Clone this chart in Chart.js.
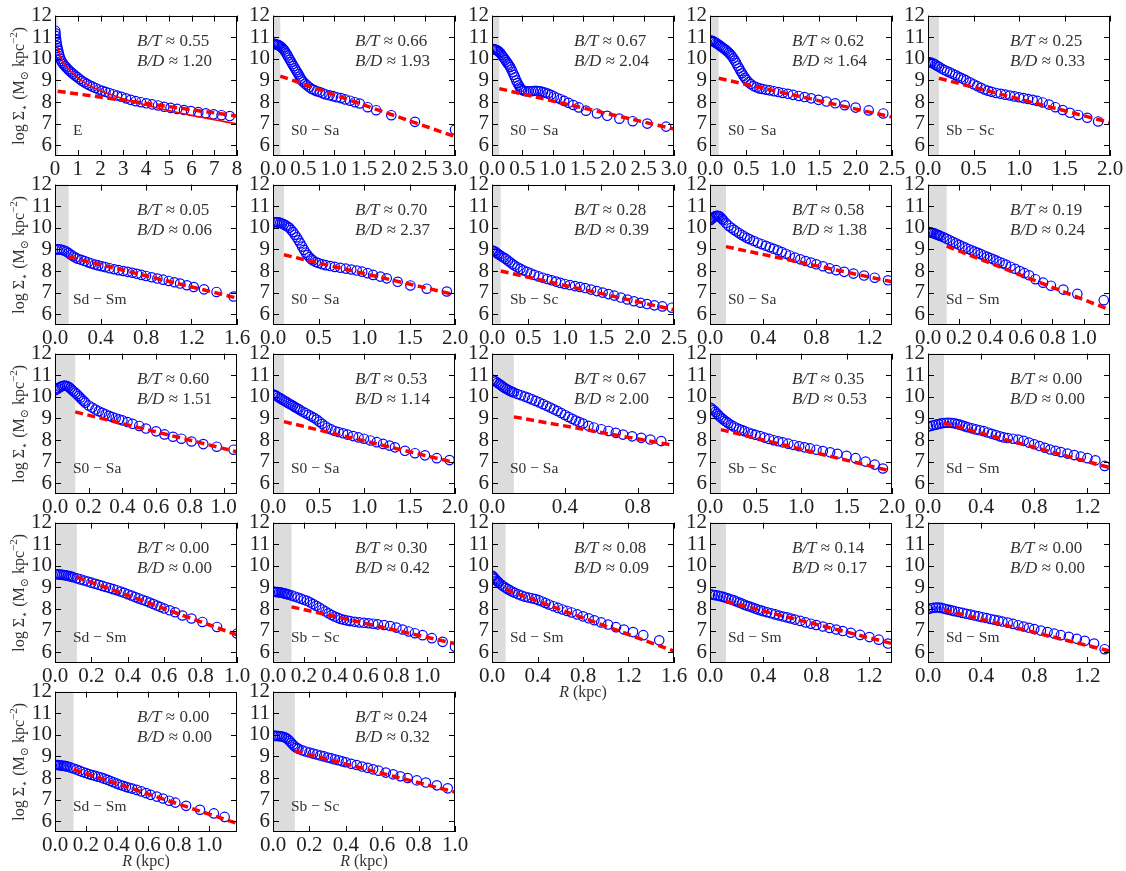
<!DOCTYPE html>
<html>
<head>
<meta charset="utf-8">
<script src="https://cdn.jsdelivr.net/npm/chart.js@4.4.0/dist/chart.umd.min.js"></script>
<style>
  body { margin: 0; background: #fff; }
  #grid { position: relative; width: 1126px; height: 871px; overflow: hidden; background: #fff; }
  #grid canvas { position: absolute; }
</style>
</head>
<body>
<div id="grid"></div>
<script>
// ---------------------------------------------------------------
// Surface density profiles, one panel per galaxy
// ---------------------------------------------------------------

const morph = ['E', 'S0 − Sa', 'S0 − Sa', 'S0 − Sa', 'Sb − Sc',
               'Sd − Sm', 'S0 − Sa', 'Sb − Sc', 'S0 − Sa', 'Sd − Sm',
               'S0 − Sa', 'S0 − Sa', 'S0 − Sa', 'Sb − Sc', 'Sd − Sm',
               'Sd − Sm', 'Sb − Sc', 'Sd − Sm', 'Sd − Sm', 'Sd − Sm',
               'Sd − Sm', 'Sb − Sc'];
const bulgeTotal = ['0.55', '0.66', '0.67', '0.62', '0.25',
                    '0.05', '0.70', '0.28', '0.58', '0.19',
                    '0.60', '0.53', '0.67', '0.35', '0.00',
                    '0.00', '0.30', '0.08', '0.14', '0.00',
                    '0.00', '0.24'];
const bulgeDisk = ['1.20', '1.93', '2.04', '1.64', '0.33',
                   '0.06', '2.37', '0.39', '1.38', '0.24',
                   '1.51', '1.14', '2.00', '0.53', '0.00',
                   '0.00', '0.42', '0.09', '0.17', '0.00',
                   '0.00', '0.32'];

// x-axis extent (kpc) and tick spacing per panel
const xMax  = [8, 3.0, 3.0, 2.5, 2.0, 1.6, 2.0, 2.5, 1.37, 1.17, 1.08, 2.0, 1.0, 2.0, 1.37, 1.0, 1.18, 1.6, 1.37, 1.37, 1.18, 1.0];
const xStep = [1, 0.5, 0.5, 0.5, 0.5, 0.4, 0.5, 0.5, 0.4, 0.2, 0.2, 0.5, 0.4, 0.5, 0.4, 0.2, 0.2, 0.4, 0.4, 0.4, 0.2, 0.2];
const yTicks = [6, 7, 8, 9, 10, 11, 12];

// inner region excluded from the disc fit (kpc)
const maskR = 0.12;
// exponential disc: log Sigma at R = maskR and at R = xMax
const diskIn  = [8.5, 9.2, 8.62, 9.1, 9.1, 8.65, 8.75, 8.0, 9.13, 9.15, 9.3, 8.85, 9.07, 8.48, 8.78, 9.48, 8.1, 8.9, 8.35, 7.95, 8.4, 9.25];
const diskOut = [7.35, 6.4, 6.75, 7.3, 7.05, 6.75, 6.9, 6.2, 7.5, 6.2, 7.45, 6.95, 7.75, 6.55, 6.72, 6.8, 6.4, 6.05, 6.4, 6.05, 5.9, 7.35];

// total (bulge + disc) fit for the elliptical
const fitR01  = [0.12, 0.2, 0.3, 0.4, 0.5, 0.7, 1.0, 1.3, 1.6, 2.0, 2.5, 3.0, 3.5, 4.0, 4.5, 5.0, 5.5, 6.0, 6.5, 7.0, 7.5, 8.0];
const fitLS01 = [10.5, 10.2, 9.95, 9.78, 9.65, 9.4, 9.13, 8.9, 8.72, 8.52, 8.32, 8.15, 8.0, 7.86, 7.72, 7.6, 7.49, 7.38, 7.28, 7.18, 7.08, 6.99];

// measured profiles: radius (kpc) and log Sigma_*
const R01  = [0.01, 0.02, 0.03, 0.05, 0.07, 0.09, 0.11, 0.14, 0.17, 0.2, 0.24, 0.28, 0.33, 0.38, 0.44, 0.5, 0.57, 0.64, 0.72, 0.8, 0.89, 0.98, 1.08, 1.18, 1.29, 1.4, 1.52, 1.65, 1.78, 1.92, 2.07, 2.22, 2.38, 2.55, 2.73, 2.92, 3.12, 3.33, 3.55, 3.78, 4.02, 4.27, 4.53, 4.8, 5.08, 5.37, 5.67, 5.98, 6.3, 6.63, 6.97, 7.32, 7.68];
const LS01 = [11.3, 11.18, 11.06, 10.9, 10.75, 10.6, 10.5, 10.38, 10.25, 10.12, 10.0, 9.9, 9.82, 9.74, 9.67, 9.6, 9.52, 9.45, 9.37, 9.3, 9.22, 9.15, 9.06, 8.98, 8.91, 8.84, 8.77, 8.71, 8.65, 8.58, 8.52, 8.47, 8.42, 8.36, 8.3, 8.24, 8.17, 8.1, 8.04, 7.99, 7.94, 7.89, 7.84, 7.78, 7.73, 7.68, 7.63, 7.58, 7.53, 7.48, 7.43, 7.39, 7.35];

const R02  = [0.0, 0.02, 0.04, 0.06, 0.08, 0.1, 0.12, 0.14, 0.16, 0.18, 0.2, 0.22, 0.24, 0.26, 0.28, 0.3, 0.32, 0.34, 0.36, 0.38, 0.4, 0.42, 0.44, 0.46, 0.48, 0.5, 0.53, 0.56, 0.6, 0.64, 0.68, 0.72, 0.77, 0.82, 0.87, 0.93, 0.99, 1.05, 1.12, 1.19, 1.27, 1.35, 1.43, 1.56, 1.7, 1.95, 2.34, 3.0];
const LS02 = [10.7, 10.7, 10.68, 10.66, 10.64, 10.62, 10.58, 10.54, 10.48, 10.42, 10.34, 10.25, 10.15, 10.05, 9.95, 9.85, 9.75, 9.66, 9.56, 9.47, 9.38, 9.28, 9.18, 9.08, 9.0, 8.93, 8.85, 8.77, 8.68, 8.6, 8.55, 8.5, 8.46, 8.4, 8.35, 8.31, 8.27, 8.22, 8.18, 8.12, 8.06, 7.99, 7.93, 7.76, 7.62, 7.39, 7.08, 6.72];

const R03  = [0.0, 0.02, 0.04, 0.06, 0.08, 0.1, 0.12, 0.14, 0.16, 0.18, 0.2, 0.22, 0.24, 0.26, 0.28, 0.3, 0.32, 0.34, 0.36, 0.38, 0.4, 0.42, 0.44, 0.46, 0.48, 0.5, 0.53, 0.56, 0.6, 0.64, 0.68, 0.72, 0.76, 0.8, 0.84, 0.88, 0.92, 0.97, 1.02, 1.07, 1.13, 1.19, 1.26, 1.34, 1.43, 1.55, 1.73, 1.9, 2.1, 2.32, 2.56, 2.87];
const LS03 = [10.45, 10.45, 10.44, 10.42, 10.4, 10.36, 10.32, 10.26, 10.18, 10.1, 10.02, 9.94, 9.86, 9.78, 9.7, 9.62, 9.5, 9.38, 9.26, 9.14, 9.0, 8.88, 8.77, 8.68, 8.6, 8.55, 8.52, 8.5, 8.5, 8.5, 8.51, 8.52, 8.51, 8.49, 8.46, 8.43, 8.39, 8.33, 8.26, 8.2, 8.13, 8.05, 7.96, 7.86, 7.75, 7.6, 7.47, 7.36, 7.23, 7.11, 7.0, 6.86];

const R04  = [0.0, 0.02, 0.04, 0.06, 0.08, 0.1, 0.12, 0.14, 0.16, 0.18, 0.2, 0.22, 0.24, 0.26, 0.28, 0.3, 0.32, 0.34, 0.36, 0.38, 0.4, 0.42, 0.44, 0.46, 0.48, 0.5, 0.53, 0.56, 0.6, 0.64, 0.68, 0.72, 0.77, 0.82, 0.88, 0.94, 1.0, 1.07, 1.14, 1.22, 1.3, 1.39, 1.49, 1.6, 1.72, 1.85, 2.0, 2.18, 2.38];
const LS04 = [10.85, 10.84, 10.82, 10.78, 10.74, 10.7, 10.65, 10.6, 10.55, 10.5, 10.45, 10.4, 10.34, 10.28, 10.2, 10.12, 10.02, 9.92, 9.8, 9.68, 9.56, 9.44, 9.33, 9.22, 9.12, 9.03, 8.92, 8.83, 8.74, 8.68, 8.63, 8.6, 8.57, 8.54, 8.5, 8.46, 8.42, 8.38, 8.33, 8.28, 8.23, 8.17, 8.1, 8.02, 7.94, 7.85, 7.74, 7.61, 7.47];

const R05  = [0.0, 0.02, 0.04, 0.06, 0.08, 0.1, 0.12, 0.15, 0.18, 0.21, 0.24, 0.27, 0.3, 0.33, 0.36, 0.39, 0.42, 0.46, 0.5, 0.54, 0.58, 0.62, 0.66, 0.7, 0.75, 0.8, 0.85, 0.9, 0.95, 1.0, 1.05, 1.1, 1.15, 1.2, 1.26, 1.33, 1.4, 1.48, 1.56, 1.65, 1.75, 1.87];
const LS05 = [9.85, 9.84, 9.82, 9.78, 9.73, 9.68, 9.63, 9.55, 9.48, 9.42, 9.37, 9.31, 9.25, 9.18, 9.12, 9.06, 9.0, 8.91, 8.82, 8.74, 8.66, 8.58, 8.52, 8.47, 8.42, 8.38, 8.34, 8.3, 8.26, 8.22, 8.18, 8.14, 8.1, 8.05, 7.98, 7.88, 7.76, 7.63, 7.5, 7.4, 7.27, 7.1];

const R06  = [0.0, 0.02, 0.04, 0.06, 0.08, 0.1, 0.12, 0.14, 0.16, 0.18, 0.2, 0.23, 0.26, 0.29, 0.32, 0.35, 0.38, 0.41, 0.44, 0.48, 0.52, 0.56, 0.6, 0.64, 0.68, 0.72, 0.76, 0.8, 0.85, 0.9, 0.95, 1.0, 1.05, 1.1, 1.16, 1.22, 1.31, 1.42, 1.57];
const LS06 = [8.98, 9.0, 9.0, 8.98, 8.95, 8.9, 8.83, 8.75, 8.68, 8.62, 8.57, 8.52, 8.46, 8.4, 8.35, 8.3, 8.26, 8.22, 8.18, 8.13, 8.08, 8.04, 8.0, 7.96, 7.92, 7.87, 7.82, 7.77, 7.71, 7.65, 7.6, 7.54, 7.48, 7.42, 7.34, 7.26, 7.15, 7.03, 6.82];

const R07  = [0.0, 0.02, 0.04, 0.06, 0.08, 0.1, 0.12, 0.14, 0.16, 0.18, 0.2, 0.22, 0.24, 0.26, 0.28, 0.3, 0.32, 0.34, 0.36, 0.38, 0.4, 0.42, 0.44, 0.47, 0.5, 0.54, 0.58, 0.63, 0.68, 0.74, 0.8, 0.86, 0.92, 0.98, 1.04, 1.1, 1.18, 1.25, 1.37, 1.51, 1.69, 1.91];
const LS07 = [10.25, 10.26, 10.26, 10.25, 10.23, 10.2, 10.16, 10.11, 10.06, 10.0, 9.9, 9.8, 9.68, 9.56, 9.42, 9.28, 9.13, 8.98, 8.85, 8.74, 8.64, 8.56, 8.49, 8.42, 8.37, 8.31, 8.27, 8.23, 8.19, 8.15, 8.11, 8.07, 8.02, 7.97, 7.9, 7.82, 7.74, 7.66, 7.5, 7.33, 7.18, 7.05];

const R08  = [0.0, 0.02, 0.04, 0.06, 0.08, 0.1, 0.13, 0.16, 0.19, 0.22, 0.25, 0.28, 0.31, 0.35, 0.39, 0.43, 0.48, 0.53, 0.58, 0.64, 0.7, 0.76, 0.82, 0.88, 0.94, 1.0, 1.07, 1.14, 1.21, 1.28, 1.36, 1.44, 1.52, 1.6, 1.68, 1.77, 1.86, 1.95, 2.04, 2.13, 2.23, 2.34, 2.47];
const LS08 = [8.95, 8.93, 8.9, 8.85, 8.8, 8.75, 8.68, 8.62, 8.56, 8.48, 8.4, 8.32, 8.25, 8.17, 8.1, 8.03, 7.96, 7.89, 7.82, 7.75, 7.69, 7.63, 7.57, 7.51, 7.45, 7.4, 7.35, 7.3, 7.26, 7.21, 7.14, 7.07, 7.0, 6.93, 6.86, 6.77, 6.68, 6.6, 6.53, 6.47, 6.41, 6.36, 6.3];

const R09  = [0.0, 0.01, 0.02, 0.03, 0.04, 0.05, 0.06, 0.07, 0.08, 0.09, 0.1, 0.12, 0.14, 0.16, 0.18, 0.2, 0.22, 0.24, 0.26, 0.28, 0.3, 0.33, 0.36, 0.39, 0.42, 0.45, 0.48, 0.51, 0.54, 0.57, 0.6, 0.64, 0.68, 0.72, 0.76, 0.8, 0.85, 0.9, 0.95, 1.01, 1.08, 1.16, 1.24, 1.34];
const LS09 = [10.35, 10.4, 10.45, 10.5, 10.54, 10.56, 10.56, 10.53, 10.48, 10.42, 10.35, 10.22, 10.1, 10.0, 9.91, 9.83, 9.75, 9.67, 9.6, 9.53, 9.47, 9.39, 9.31, 9.24, 9.17, 9.1, 9.03, 8.96, 8.88, 8.8, 8.72, 8.62, 8.54, 8.46, 8.39, 8.31, 8.22, 8.12, 8.04, 7.96, 7.88, 7.79, 7.69, 7.57];

const R10  = [0.0, 0.01, 0.02, 0.03, 0.04, 0.05, 0.06, 0.07, 0.08, 0.1, 0.12, 0.14, 0.16, 0.18, 0.2, 0.22, 0.24, 0.26, 0.28, 0.3, 0.32, 0.34, 0.36, 0.38, 0.4, 0.42, 0.44, 0.46, 0.48, 0.5, 0.53, 0.56, 0.59, 0.62, 0.65, 0.69, 0.74, 0.79, 0.87, 0.96, 1.13];
const LS10 = [9.8, 9.8, 9.78, 9.76, 9.74, 9.71, 9.68, 9.65, 9.62, 9.56, 9.49, 9.42, 9.35, 9.28, 9.21, 9.14, 9.08, 9.02, 8.96, 8.9, 8.84, 8.78, 8.72, 8.66, 8.6, 8.54, 8.48, 8.42, 8.36, 8.3, 8.2, 8.1, 8.0, 7.9, 7.8, 7.62, 7.46, 7.32, 7.14, 6.94, 6.65];

const R11  = [0.0, 0.01, 0.02, 0.03, 0.04, 0.05, 0.06, 0.07, 0.08, 0.09, 0.1, 0.11, 0.12, 0.13, 0.14, 0.15, 0.16, 0.17, 0.18, 0.2, 0.22, 0.24, 0.26, 0.28, 0.3, 0.32, 0.34, 0.36, 0.38, 0.4, 0.43, 0.46, 0.5, 0.54, 0.6, 0.65, 0.7, 0.75, 0.81, 0.88, 0.96, 1.06];
const LS11 = [10.3, 10.35, 10.4, 10.45, 10.49, 10.51, 10.52, 10.5, 10.46, 10.4, 10.33, 10.26, 10.19, 10.12, 10.04, 9.96, 9.88, 9.8, 9.73, 9.6, 9.5, 9.41, 9.33, 9.26, 9.19, 9.12, 9.06, 9.01, 8.96, 8.91, 8.83, 8.75, 8.65, 8.53, 8.4, 8.26, 8.15, 8.06, 7.93, 7.81, 7.69, 7.55];

const R12  = [0.0, 0.02, 0.04, 0.06, 0.08, 0.1, 0.12, 0.14, 0.16, 0.18, 0.2, 0.22, 0.24, 0.26, 0.28, 0.3, 0.33, 0.36, 0.39, 0.42, 0.45, 0.48, 0.51, 0.54, 0.57, 0.6, 0.64, 0.68, 0.72, 0.77, 0.82, 0.88, 0.94, 1.0, 1.07, 1.14, 1.21, 1.28, 1.34, 1.45, 1.56, 1.67, 1.8, 1.94];
const LS12 = [10.12, 10.08, 10.03, 9.98, 9.93, 9.88, 9.83, 9.78, 9.73, 9.68, 9.63, 9.58, 9.53, 9.48, 9.43, 9.38, 9.31, 9.24, 9.17, 9.1, 9.03, 8.95, 8.85, 8.75, 8.65, 8.57, 8.49, 8.42, 8.37, 8.31, 8.25, 8.18, 8.12, 8.06, 7.98, 7.9, 7.82, 7.74, 7.66, 7.5, 7.39, 7.29, 7.16, 7.07];

const R13  = [0.0, 0.01, 0.02, 0.03, 0.04, 0.05, 0.06, 0.07, 0.08, 0.09, 0.1, 0.11, 0.12, 0.14, 0.16, 0.18, 0.2, 0.22, 0.24, 0.26, 0.28, 0.3, 0.32, 0.34, 0.36, 0.38, 0.4, 0.42, 0.44, 0.46, 0.48, 0.5, 0.53, 0.56, 0.6, 0.64, 0.68, 0.72, 0.77, 0.82, 0.87, 0.93];
const LS13 = [10.8, 10.76, 10.71, 10.65, 10.59, 10.53, 10.47, 10.41, 10.36, 10.31, 10.27, 10.23, 10.2, 10.13, 10.07, 10.01, 9.95, 9.88, 9.81, 9.74, 9.66, 9.58, 9.5, 9.42, 9.34, 9.25, 9.16, 9.07, 8.98, 8.9, 8.83, 8.76, 8.66, 8.58, 8.5, 8.42, 8.33, 8.25, 8.17, 8.1, 8.02, 7.95];

const R14  = [0.0, 0.02, 0.04, 0.06, 0.08, 0.1, 0.12, 0.14, 0.16, 0.18, 0.2, 0.23, 0.26, 0.29, 0.32, 0.35, 0.38, 0.42, 0.46, 0.5, 0.55, 0.6, 0.65, 0.7, 0.75, 0.8, 0.86, 0.92, 0.98, 1.04, 1.1, 1.17, 1.24, 1.32, 1.4, 1.5, 1.6, 1.71, 1.81, 1.9];
const LS14 = [9.5, 9.45, 9.38, 9.3, 9.21, 9.12, 9.04, 8.97, 8.9, 8.84, 8.78, 8.7, 8.63, 8.57, 8.51, 8.46, 8.41, 8.35, 8.29, 8.24, 8.18, 8.11, 8.05, 7.99, 7.94, 7.89, 7.83, 7.77, 7.71, 7.66, 7.61, 7.55, 7.49, 7.43, 7.36, 7.27, 7.16, 7.0, 6.86, 6.68];

const R15  = [0.0, 0.02, 0.04, 0.06, 0.08, 0.1, 0.12, 0.14, 0.16, 0.18, 0.2, 0.22, 0.24, 0.26, 0.28, 0.3, 0.33, 0.36, 0.39, 0.42, 0.45, 0.48, 0.51, 0.54, 0.57, 0.6, 0.64, 0.68, 0.72, 0.76, 0.8, 0.84, 0.88, 0.92, 0.96, 1.0, 1.05, 1.1, 1.15, 1.2, 1.26, 1.33];
const LS15 = [8.62, 8.65, 8.68, 8.71, 8.74, 8.77, 8.79, 8.8, 8.8, 8.79, 8.77, 8.74, 8.71, 8.67, 8.63, 8.59, 8.54, 8.49, 8.45, 8.41, 8.35, 8.29, 8.23, 8.17, 8.12, 8.09, 8.06, 8.02, 7.96, 7.88, 7.8, 7.72, 7.64, 7.56, 7.5, 7.44, 7.37, 7.3, 7.23, 7.16, 7.06, 6.8];

const R16  = [0.0, 0.01, 0.02, 0.03, 0.04, 0.05, 0.06, 0.07, 0.08, 0.09, 0.1, 0.12, 0.14, 0.16, 0.18, 0.2, 0.22, 0.24, 0.26, 0.28, 0.3, 0.32, 0.34, 0.36, 0.38, 0.4, 0.42, 0.44, 0.46, 0.48, 0.5, 0.52, 0.54, 0.56, 0.58, 0.6, 0.63, 0.66, 0.7, 0.75, 0.81, 0.89, 1.0];
const LS16 = [9.62, 9.61, 9.6, 9.59, 9.58, 9.57, 9.56, 9.54, 9.52, 9.5, 9.47, 9.42, 9.37, 9.32, 9.27, 9.22, 9.17, 9.12, 9.07, 9.02, 8.97, 8.92, 8.87, 8.81, 8.75, 8.68, 8.62, 8.55, 8.49, 8.43, 8.37, 8.3, 8.23, 8.16, 8.09, 8.02, 7.94, 7.85, 7.7, 7.56, 7.4, 7.17, 6.86];

const R17  = [0.0, 0.01, 0.02, 0.03, 0.04, 0.05, 0.06, 0.07, 0.08, 0.09, 0.1, 0.12, 0.14, 0.16, 0.18, 0.2, 0.22, 0.24, 0.26, 0.28, 0.3, 0.32, 0.34, 0.36, 0.38, 0.4, 0.42, 0.44, 0.46, 0.48, 0.5, 0.53, 0.56, 0.59, 0.62, 0.65, 0.68, 0.72, 0.76, 0.8, 0.84, 0.88, 0.92, 0.97, 1.03, 1.1, 1.18];
const LS17 = [8.8, 8.8, 8.79, 8.78, 8.77, 8.76, 8.75, 8.73, 8.71, 8.69, 8.67, 8.63, 8.58, 8.53, 8.48, 8.43, 8.38, 8.31, 8.23, 8.15, 8.07, 7.98, 7.89, 7.8, 7.72, 7.65, 7.59, 7.54, 7.5, 7.47, 7.44, 7.41, 7.38, 7.36, 7.34, 7.32, 7.29, 7.26, 7.21, 7.14, 7.05, 6.96, 6.88, 6.79, 6.65, 6.48, 6.25];

const R18  = [0.0, 0.01, 0.02, 0.03, 0.04, 0.05, 0.06, 0.08, 0.1, 0.12, 0.14, 0.16, 0.18, 0.2, 0.23, 0.26, 0.29, 0.32, 0.35, 0.38, 0.41, 0.44, 0.47, 0.5, 0.54, 0.58, 0.62, 0.66, 0.7, 0.75, 0.8, 0.85, 0.9, 0.96, 1.02, 1.09, 1.16, 1.24, 1.33, 1.47];
const LS18 = [9.55, 9.5, 9.44, 9.38, 9.32, 9.27, 9.22, 9.13, 9.05, 8.98, 8.92, 8.86, 8.8, 8.75, 8.68, 8.62, 8.57, 8.53, 8.5, 8.46, 8.41, 8.35, 8.28, 8.21, 8.13, 8.05, 7.98, 7.91, 7.84, 7.75, 7.66, 7.57, 7.48, 7.38, 7.28, 7.16, 7.05, 6.93, 6.79, 6.55];

const R19  = [0.0, 0.02, 0.04, 0.06, 0.08, 0.1, 0.12, 0.14, 0.16, 0.18, 0.2, 0.22, 0.24, 0.26, 0.28, 0.3, 0.32, 0.34, 0.36, 0.38, 0.4, 0.43, 0.46, 0.49, 0.52, 0.55, 0.58, 0.61, 0.64, 0.68, 0.72, 0.76, 0.8, 0.85, 0.9, 0.95, 1.0, 1.06, 1.13, 1.2, 1.27, 1.34];
const LS19 = [8.68, 8.66, 8.64, 8.62, 8.59, 8.56, 8.52, 8.48, 8.44, 8.4, 8.35, 8.3, 8.25, 8.2, 8.15, 8.11, 8.07, 8.02, 7.98, 7.94, 7.9, 7.85, 7.8, 7.75, 7.7, 7.65, 7.61, 7.56, 7.51, 7.45, 7.38, 7.32, 7.26, 7.19, 7.12, 7.05, 6.98, 6.9, 6.8, 6.7, 6.58, 6.4];

const R20  = [0.0, 0.02, 0.04, 0.06, 0.08, 0.1, 0.12, 0.14, 0.16, 0.18, 0.2, 0.23, 0.26, 0.29, 0.32, 0.35, 0.38, 0.41, 0.44, 0.47, 0.5, 0.53, 0.56, 0.6, 0.64, 0.68, 0.72, 0.76, 0.8, 0.85, 0.9, 0.95, 1.0, 1.06, 1.12, 1.18, 1.25, 1.33];
const LS20 = [8.0, 8.03, 8.06, 8.07, 8.07, 8.05, 8.02, 7.99, 7.96, 7.93, 7.9, 7.86, 7.82, 7.78, 7.74, 7.7, 7.66, 7.62, 7.58, 7.54, 7.5, 7.46, 7.42, 7.37, 7.31, 7.25, 7.19, 7.13, 7.07, 7.0, 6.93, 6.86, 6.79, 6.71, 6.62, 6.53, 6.4, 6.14];

const R21  = [0.0, 0.01, 0.02, 0.03, 0.04, 0.05, 0.06, 0.07, 0.08, 0.1, 0.12, 0.14, 0.16, 0.18, 0.2, 0.22, 0.24, 0.26, 0.28, 0.3, 0.32, 0.34, 0.36, 0.38, 0.4, 0.42, 0.44, 0.46, 0.48, 0.5, 0.53, 0.56, 0.59, 0.62, 0.66, 0.7, 0.74, 0.78, 0.85, 0.94, 1.03, 1.1];
const LS21 = [8.6, 8.6, 8.6, 8.59, 8.58, 8.57, 8.56, 8.55, 8.53, 8.49, 8.44, 8.39, 8.33, 8.28, 8.23, 8.18, 8.14, 8.1, 8.06, 8.02, 7.97, 7.92, 7.86, 7.8, 7.74, 7.69, 7.64, 7.59, 7.55, 7.51, 7.45, 7.38, 7.3, 7.22, 7.14, 7.05, 6.95, 6.86, 6.71, 6.53, 6.36, 6.2];

const R22  = [0.0, 0.01, 0.02, 0.03, 0.04, 0.05, 0.06, 0.07, 0.08, 0.09, 0.1, 0.11, 0.12, 0.13, 0.14, 0.16, 0.18, 0.2, 0.22, 0.24, 0.26, 0.28, 0.3, 0.32, 0.34, 0.36, 0.38, 0.4, 0.43, 0.46, 0.49, 0.52, 0.55, 0.58, 0.62, 0.66, 0.7, 0.74, 0.79, 0.84, 0.9, 0.96];
const LS22 = [9.95, 9.95, 9.95, 9.94, 9.93, 9.92, 9.9, 9.86, 9.8, 9.72, 9.63, 9.54, 9.46, 9.4, 9.35, 9.28, 9.23, 9.18, 9.13, 9.09, 9.04, 9.0, 8.95, 8.91, 8.86, 8.82, 8.77, 8.73, 8.66, 8.6, 8.53, 8.47, 8.4, 8.34, 8.25, 8.17, 8.08, 8.0, 7.89, 7.79, 7.66, 7.52];

const radii = [R01, R02, R03, R04, R05, R06, R07, R08, R09, R10, R11, R12, R13, R14, R15, R16, R17, R18, R19, R20, R21, R22];
const logSigma = [LS01, LS02, LS03, LS04, LS05, LS06, LS07, LS08, LS09, LS10, LS11, LS12, LS13, LS14, LS15, LS16, LS17, LS18, LS19, LS20, LS21, LS22];

// panels that carry the R (kpc) axis title
const xTitled = [17, 20, 21];

// ---------------------------------------------------------------
// layout
// ---------------------------------------------------------------
const COL_LEFT = [55, 273, 492, 710, 928];
const ROW_TOP = [15, 184, 353, 522, 691];
const PLOT_W = 182, PLOT_H = 141;
const PAD_L = 55, PAD_T = 15, PAD_R = 22, PAD_B = 45;

const SERIF = "'Liberation Serif', 'DejaVu Serif', serif";
const INK = '#222';

const profilePlugin = {
    id: 'profile',
    beforeDatasetsDraw(chart, args, opts) {
        // grey strip over the unresolved centre
        const { ctx, chartArea: a, scales: { x } } = chart;
        const xm = x.getPixelForValue(maskR);
        ctx.save();
        ctx.fillStyle = '#dcdcdc';
        ctx.fillRect(a.left, a.top, xm - a.left, a.bottom - a.top);
        ctx.restore();
    },
    afterDatasetsDraw(chart, args, opts) {
        const { ctx, chartArea: a, scales: { x, y } } = chart;
        ctx.save();

        // axes box
        ctx.strokeStyle = '#000';
        ctx.lineWidth = 1;
        ctx.strokeRect(Math.round(a.left) + 0.5, Math.round(a.top) + 0.5,
                       Math.round(a.right - a.left) - 1, Math.round(a.bottom - a.top) - 1);

        // inward ticks on all four sides
        const TL = 6;
        ctx.beginPath();
        x.ticks.forEach(t => {
            const px = Math.round(x.getPixelForValue(t.value)) + 0.5;
            ctx.moveTo(px, a.bottom); ctx.lineTo(px, a.bottom - TL);
            ctx.moveTo(px, a.top); ctx.lineTo(px, a.top + TL);
        });
        y.ticks.forEach(t => {
            const py = Math.round(y.getPixelForValue(t.value)) + 0.5;
            ctx.moveTo(a.left, py); ctx.lineTo(a.left + TL, py);
            ctx.moveTo(a.right, py); ctx.lineTo(a.right - TL, py);
        });
        ctx.stroke();

        // bulge fractions, top right
        ctx.fillStyle = '#333';
        ctx.textBaseline = 'alphabetic';
        const tx = a.left + 82;
        [['B/T', opts.bt, 30], ['B/D', opts.bd, 50]].forEach(([lab, val, dy]) => {
            ctx.font = 'italic 17px ' + SERIF;
            ctx.fillText(lab, tx, a.top + dy);
            const w = ctx.measureText(lab).width;
            ctx.font = '17px ' + SERIF;
            ctx.fillText(' ≈ ' + val, tx + w, a.top + dy);
        });

        // morphological type, bottom left
        ctx.font = '15.5px ' + SERIF;
        ctx.fillText(opts.morph, a.left + 18, a.top + 119);

        if (opts.yTitle) drawYTitle(ctx, a.left - 36, (a.top + a.bottom) / 2);
        if (opts.xTitle) {
            ctx.font = 'italic 16px ' + SERIF;
            const w1 = ctx.measureText('R').width;
            ctx.font = '16px ' + SERIF;
            const w2 = ctx.measureText(' (kpc)').width;
            const sx = (a.left + a.right) / 2 - (w1 + w2) / 2;
            ctx.font = 'italic 16px ' + SERIF;
            ctx.fillText('R', sx, a.bottom + 34);
            ctx.font = '16px ' + SERIF;
            ctx.fillText(' (kpc)', sx + w1, a.bottom + 34);
        }
        ctx.restore();
    }
};

function drawYTitle(ctx, cx, cy) {
    // log Σ⋆ (M⊙ kpc⁻²), rotated
    const parts = [
        ['log Σ', 16, 0], ['⋆', 11, 4], [' (M', 16, 0], ['⊙', 11, 4],
        [' kpc', 16, 0], ['−2', 11, -7], [')', 16, 0]
    ];
    ctx.save();
    ctx.translate(cx, cy);
    ctx.rotate(-Math.PI / 2);
    let total = 0;
    parts.forEach(p => { ctx.font = p[1] + 'px ' + SERIF; total += ctx.measureText(p[0]).width; });
    let u = -total / 2;
    parts.forEach(p => {
        ctx.font = p[1] + 'px ' + SERIF;
        ctx.fillText(p[0], u, 5 + p[2]);
        u += ctx.measureText(p[0]).width;
    });
    ctx.restore();
}

const grid = document.getElementById('grid');

for (let i = 0; i < radii.length; i++) {
    const row = Math.floor(i / 5), col = i % 5;
    const canvas = document.createElement('canvas');
    const cw = PAD_L + PLOT_W + PAD_R, ch = PAD_T + PLOT_H + PAD_B;
    canvas.width = cw; canvas.height = ch;
    canvas.style.width = cw + 'px'; canvas.style.height = ch + 'px';
    canvas.style.left = (COL_LEFT[col] - PAD_L) + 'px';
    canvas.style.top = (ROW_TOP[row] - PAD_T) + 'px';
    grid.appendChild(canvas);

    const pts = radii[i].map((r, k) => ({ x: r, y: logSigma[i][k] }));
    const datasets = [
        {
            type: 'line',
            data: [{ x: maskR, y: diskIn[i] }, { x: xMax[i], y: diskOut[i] }],
            borderColor: '#ff0000',
            borderWidth: 3.5,
            borderDash: [8, 4.5],
            pointRadius: 0,
            fill: false,
            order: 1,
            clip: 0
        },
        {
            type: 'scatter',
            data: pts,
            pointStyle: 'circle',
            pointRadius: 4.7,
            borderWidth: 1.2,
            borderColor: '#0000ff',
            backgroundColor: 'rgba(0,0,0,0)',
            order: 3,
            clip: 0
        }
    ];
    if (i === 0) {
        datasets.push({
            type: 'line',
            data: fitR01.map((r, k) => ({ x: r, y: fitLS01[k] })),
            borderColor: '#ff0000',
            borderWidth: 1.6,
            pointRadius: 0,
            tension: 0.3,
            fill: false,
            order: 2,
            clip: 0
        });
    }

    const step = xStep[i];
    const dec = step >= 1 ? 0 : 1;

    new Chart(canvas, {
        type: 'scatter',
        data: { datasets },
        options: {
            responsive: false,
            animation: false,
            devicePixelRatio: 1,
            events: [],
            layout: { autoPadding: false, padding: { top: PAD_T, right: PAD_R, left: 0, bottom: 0 } },
            plugins: {
                legend: { display: false },
                tooltip: { enabled: false },
                profile: {
                    bt: bulgeTotal[i], bd: bulgeDisk[i], morph: morph[i],
                    yTitle: col === 0, xTitle: xTitled.includes(i)
                }
            },
            scales: {
                x: {
                    type: 'linear',
                    min: 0,
                    max: xMax[i],
                    grid: { display: false, drawTicks: false },
                    border: { display: false },
                    ticks: {
                        autoSkip: false, maxRotation: 0, minRotation: 0,
                        padding: 1, color: INK,
                        font: { family: SERIF, size: 21 },
                        callback: v => Number(v).toFixed(dec)
                    },
                    afterBuildTicks: s => {
                        const t = [];
                        for (let k = 0; k * step <= xMax[i] + 1e-9; k++) t.push({ value: +(k * step).toFixed(3) });
                        s.ticks = t;
                    },
                    afterFit: s => { s.height = PAD_B; }
                },
                y: {
                    type: 'linear',
                    min: 5.5,
                    max: 12,
                    grid: { display: false, drawTicks: false },
                    border: { display: false },
                    ticks: {
                        autoSkip: false,
                        padding: 3, color: INK,
                        font: { family: SERIF, size: 21 },
                        callback: v => String(v)
                    },
                    afterBuildTicks: s => { s.ticks = yTicks.map(v => ({ value: v })); },
                    afterFit: s => { s.width = PAD_L; }
                }
            }
        },
        plugins: [profilePlugin]
    });
}
</script>
</body>
</html>
